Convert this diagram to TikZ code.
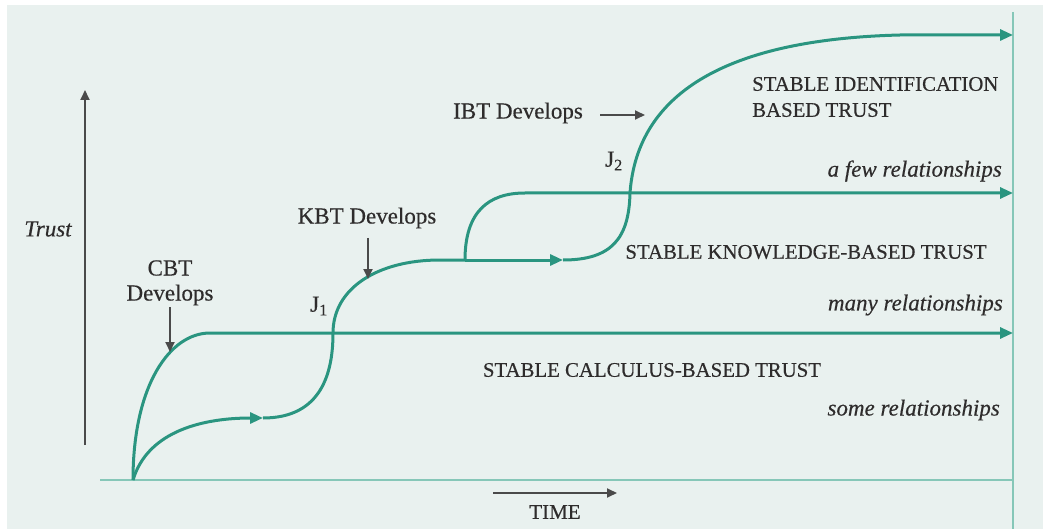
\documentclass[tikz,border=0pt]{standalone}
\usepackage{fontspec}
\setmainfont{Liberation Serif}[FakeBold=0.4]
\usetikzlibrary{arrows.meta}
\definecolor{bgc}{HTML}{E9F1EF}
\definecolor{teal1}{HTML}{2A9580}
\definecolor{axc}{HTML}{86C7B8}
\definecolor{txt}{HTML}{2E2C2C}
\definecolor{garr}{HTML}{4A4A4A}
\tikzset{
  curve/.style={draw=teal1, line width=3pt},
  tealtip/.style={-{Triangle[length=13pt,width=11pt]}},
  axisline/.style={draw=axc, line width=2.5pt},
  grayarrow/.style={draw=garr, line width=1.8pt, -{Triangle[length=10pt,width=9pt]}},
  lab/.style={text=txt, inner sep=0pt, font=\fontsize{23}{25}\selectfont},
  caps/.style={text=txt, inner sep=0pt, font=\fontsize{20.8}{24}\selectfont},
  itl/.style={text=txt, inner sep=0pt, font=\fontsize{23}{26}\selectfont\itshape},
}
\begin{document}
\begin{tikzpicture}[x=1pt,y=-1pt]
\useasboundingbox (0,0) rectangle (1043,529);
\fill[white] (0,0) rectangle (1043,529);
\fill[bgc] (7,5) rectangle (1043,529);
% coordinates
\coordinate (O) at (133,480);
\coordinate (axL) at (100,480);
\coordinate (axR) at (1013,480);
\coordinate (vT) at (1013,12);
\coordinate (vB) at (1013,529);
\coordinate (cbtEnd) at (1013,333);
\coordinate (kbtEnd) at (1013,193);
\coordinate (ibtEnd) at (1013,35);
\coordinate (m1) at (263,418);
\coordinate (j1) at (333,333);
\coordinate (p1) at (465,260);
\coordinate (m2) at (563,260);
\coordinate (j2) at (630,193);
% axes
\draw[axisline] (axL) -- (axR);
\draw[axisline] (vT) -- (vB);
% CBT curve
\draw[curve, tealtip] (O) .. controls (133,385) and (170,333) .. (210,333) -- (cbtEnd);
% lower path with mid arrow
\draw[curve, tealtip] (O) .. controls (148,430) and (205,418) .. (m1);
\draw[curve] (m1) .. controls (322,418) and (333,372) .. (j1)
  .. controls (333,288) and (378,260) .. (440,260) -- (p1);
\draw[curve, tealtip] (p1) -- (m2);
% branch to few relationships
\draw[curve, tealtip] (p1) .. controls (465,212) and (488,193) .. (525,193) -- (kbtEnd);
% J2 S-curve to IBT
\draw[curve, tealtip] (m2) .. controls (612,260) and (629,238) .. (j2)
  .. controls (636,110) and (700,40) .. (900,35) -- (ibtEnd);
% Trust axis
\coordinate (trB) at (85,445);
\coordinate (trT) at (85,90);
\draw[grayarrow] (trB) -- (trT);
\node[itl] (trust) at (48,229) {Trust};
% time
\coordinate (tmL) at (493,493);
\coordinate (tmR) at (617,493);
\draw[grayarrow] (tmL) -- (tmR);
\node[lab, font=\fontsize{21}{24}\selectfont] (time) at (555,512) {TIME};
% CBT
\node[lab] (cbt1) at (170,268) {CBT};
\node[lab] (cbt2) at (170,295) {Develops};
\coordinate (cbtA) at (170,352);
\draw[grayarrow] (cbt2.south |- 0,307) -- (cbtA);
% KBT
\node[lab] (kbt) at (367,218) {KBT Develops};
\coordinate (kbtA) at (368,279);
\draw[grayarrow] (368,238) -- (kbtA);
% IBT
\node[lab] (ibt) at (518,113) {IBT Develops};
\coordinate (ibtA) at (645,115);
\draw[grayarrow] (600,115) -- (ibtA);
% J labels
\node[lab] (J1) at (319,306) {J\textsubscript{1}};
\node[lab] (J2) at (614,161) {J\textsubscript{2}};
% region labels
\node[caps, anchor=west] (sib1) at (752,84) {STABLE IDENTIFICATION};
\node[caps, anchor=west] (sib2) at (752,110) {BASED TRUST};
\node[itl, anchor=east] (few) at (1002,171) {a few relationships};
\node[caps] (skb) at (806,252) {STABLE KNOWLEDGE-BASED TRUST};
\node[itl, anchor=east] (many) at (1003,305) {many relationships};
\node[caps] (scb) at (652,370) {STABLE CALCULUS-BASED TRUST};
\node[itl, anchor=east] (some) at (1000,410) {some relationships};
\end{tikzpicture}
\end{document}
